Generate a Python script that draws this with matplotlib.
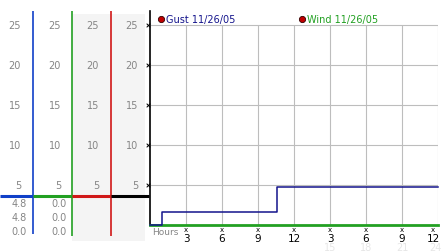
import matplotlib
matplotlib.use('Agg')
import matplotlib.pyplot as plt
from matplotlib.transforms import blended_transform_factory

W, H = 442, 253

# chart data
gust_hours = [0, 1.0, 10.6, 24]
gust_speed = [0, 1.6, 4.8, 4.8]
wind_hours = [0, 24]
wind_speed = [0, 0]

y_ticks = [5, 10, 15, 20, 25]
x_ticks = [3, 6, 9, 12, 15, 18, 21, 24]
x_tick_labels = ['3', '6', '9', '12', '3', '6', '9', '12']
x_faint_ticks = [15, 18, 21, 24]
x_faint_labels = ['15', '18', '21', '24']

gust_stats = ['4.8', '4.8', '0.0']
wind_stats = ['0.0', '0.0', '0.0']
legend_labels = ['Gust 11/26/05', 'Wind 11/26/05']

navy = '#14148c'
blue = '#1040c8'
green = '#22a022'
red = '#d01818'
grey_txt = '#858585'


def px(x, y):
    # pixel (from top-left) -> figure fraction
    return x / W, 1 - y / H


fig = plt.figure(figsize=(W / 100, H / 100), dpi=100)

# main plot area: x 150..438 px, y 0 at 226 px, 8 px per unit
x0, x1 = 150, 438
y_zero, y_top = 226, 12
ax = fig.add_axes([x0 / W, (H - y_zero) / H, (x1 - x0) / W, (y_zero - y_top) / H])
ax.set_xlim(0, 24)
ax.set_ylim(0, (y_zero - y_top) / 8)
for s in ['top', 'right', 'bottom']:
    ax.spines[s].set_visible(False)
ax.spines['left'].set_linewidth(1.2)
ax.set_xticks([])
ax.set_yticks([])

# grid
ax.hlines(y_ticks, 0, 24, color='#bdbdbd', lw=0.8, zorder=1)
ax.vlines(x_ticks, 0, 25, color='#bdbdbd', lw=0.8, zorder=1)

# data
ax.plot(wind_hours, wind_speed, color=green, lw=2, zorder=3, clip_on=False)
ax.step(gust_hours, gust_speed, where='post', color=navy, lw=1.1, zorder=4, clip_on=False)

# y tick marks
ax.scatter([-0.2] * len(y_ticks), y_ticks, marker='x', s=7, color='black', lw=0.7,
           clip_on=False, zorder=5)

# x tick marks and labels
bt = blended_transform_factory(ax.transData, fig.transFigure)
for xv, lab in zip(x_ticks, x_tick_labels):
    xx = xv if xv < 24 else 23.6
    ax.text(xx, 1 - 230 / H, 'x', transform=bt, ha='center', va='center', fontsize=5, color='black')
    ax.text(xx, 1 - 239 / H, lab, transform=bt, ha='center', va='center', fontsize=7.5, color='black')
for xv, lab in zip(x_faint_ticks, x_faint_labels):
    xx = xv if xv < 24 else 23.8
    ax.text(xx, 1 - 248 / H, lab, transform=bt, ha='center', va='center', fontsize=7, color='#e6e6e6')
ax.text(0.2, 1 - 233 / H, 'Hours', transform=bt, ha='left', va='center', fontsize=6.5, color=grey_txt)

# legend
for (lx, lab, col) in [(161, legend_labels[0], navy), (302, legend_labels[1], green)]:
    fx, fy = px(lx, 20)
    fig.add_artist(plt.Line2D([fx], [fy], marker='o', markersize=4.5, markerfacecolor='#c00000',
                              markeredgecolor='#300000', markeredgewidth=0.6))
    fx2, _ = px(lx + 5, 20)
    fig.text(fx2, fy, lab, ha='left', va='center', fontsize=7, color=col)

# left panel (scale columns)
lp = fig.add_axes([0, 0, 1, 1], zorder=-1)
lp.set_xlim(0, W)
lp.set_ylim(H, 0)
lp.axis('off')
lp.add_patch(plt.Rectangle((72, 15), 73, 227, color='#f4f4f4', lw=0))
lp.vlines(33, 12, 235, color=blue, lw=1.2)
lp.vlines(72, 12, 237, color=green, lw=1.2)
lp.vlines(111, 12, 237, color=red, lw=1.2)
lp.hlines(196.5, 0, 33, color=blue, lw=2.2)
lp.hlines(196.5, 33, 72, color=green, lw=2.2)
lp.hlines(196.5, 72, 111, color=red, lw=2.2)
lp.hlines(196.5, 111, 149, color='black', lw=2.2)

# scale labels in every column follow the main y axis
yt = blended_transform_factory(fig.transFigure, ax.transData)
for right in [21, 61, 99, 138]:
    for v in y_ticks:
        ax.text(right / W, v, str(v), transform=yt, ha='right', va='center', fontsize=7, color=grey_txt)

for i, (g, w) in enumerate(zip(gust_stats, wind_stats)):
    yy = 204 + 14 * i
    lp.text(27, yy, g, ha='right', va='center', fontsize=7, color=grey_txt)
    lp.text(67, yy, w, ha='right', va='center', fontsize=7, color=grey_txt)

fig.savefig('out.png', dpi=100)
